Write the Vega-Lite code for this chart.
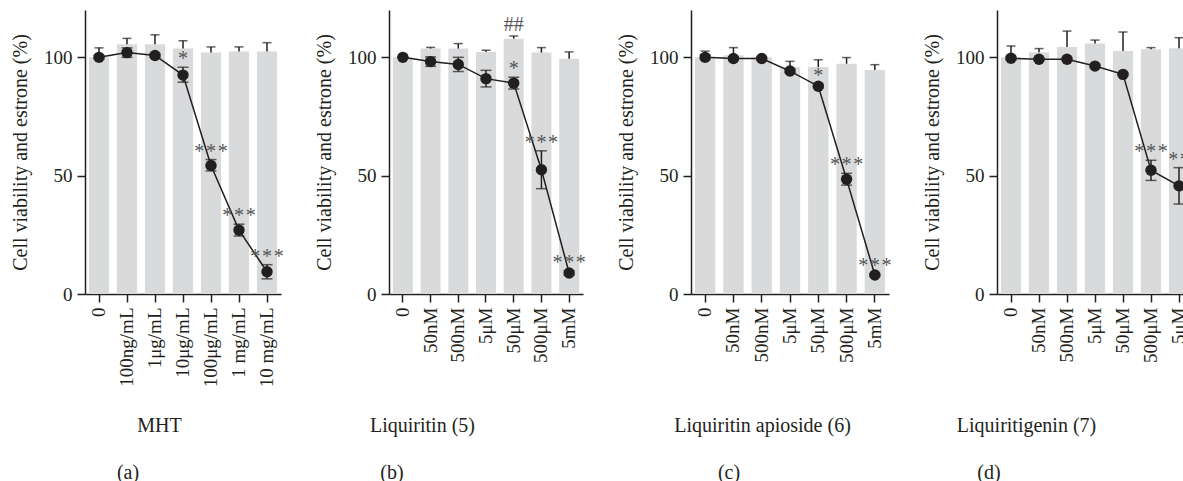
{
  "$schema": "https://vega.github.io/schema/vega-lite/v6.json",
  "padding": {"left": 10, "top": 10, "right": 0, "bottom": 0},
  "spacing": 108,
  "bounds": "flush",
  "config": {
    "font": "Liberation Serif",
    "view": {"stroke": null},
    "axis": {
      "domainColor": "#231f20", "tickColor": "#231f20", "labelColor": "#231f20", "titleColor": "#231f20",
      "labelFontSize": 19, "titleFontSize": 20, "titleFontWeight": "normal", "grid": false,
      "tickSize": 8, "domainWidth": 1.5, "tickWidth": 1.5, "labelFont": "Liberation Serif", "titleFont": "Liberation Serif"
    },
    "axisY": {"labelPadding": 5, "titlePadding": 13},
    "axisX": {"labelAngle": -90, "labelPadding": 5, "titleY": 121},
    "title": {"fontSize": 20, "fontWeight": "normal", "color": "#231f20", "font": "Liberation Serif"}
  },
  "datasets": {
    "a": [
      {"dose": "0", "bar": 100, "barHi": 104, "pt": 100, "ptLo": 99.2, "ptHi": 100.8, "sig": "", "hash": ""},
      {"dose": "100ng/mL", "bar": 105.5, "barHi": 108, "pt": 102, "ptLo": 100, "ptHi": 104, "sig": "", "hash": ""},
      {"dose": "1μg/mL", "bar": 105.5, "barHi": 109.5, "pt": 100.8, "ptLo": 100, "ptHi": 101.6, "sig": "", "hash": ""},
      {"dose": "10μg/mL", "bar": 103.7, "barHi": 107, "pt": 92.5, "ptLo": 89.5, "ptHi": 95.8, "sig": "*", "hash": ""},
      {"dose": "100μg/mL", "bar": 102, "barHi": 104.4, "pt": 54.3, "ptLo": 52, "ptHi": 56.8, "sig": "*\u200a*\u200a*", "hash": ""},
      {"dose": "1 mg/mL", "bar": 102.5, "barHi": 104.4, "pt": 27, "ptLo": 24.5, "ptHi": 29.5, "sig": "*\u200a*\u200a*", "hash": ""},
      {"dose": "10 mg/mL", "bar": 102.5, "barHi": 106.2, "pt": 9.4, "ptLo": 6.4, "ptHi": 12.4, "sig": "*\u200a*\u200a*", "hash": ""}
    ],
    "b": [
      {"dose": "0", "bar": 100, "barHi": 100, "pt": 100, "ptLo": 100, "ptHi": 100, "sig": "", "hash": ""},
      {"dose": "50nM", "bar": 103.7, "barHi": 104.2, "pt": 98.2, "ptLo": 96.2, "ptHi": 100.2, "sig": "", "hash": ""},
      {"dose": "500nM", "bar": 103.7, "barHi": 105.8, "pt": 97, "ptLo": 94, "ptHi": 100, "sig": "", "hash": ""},
      {"dose": "5μM", "bar": 102.3, "barHi": 103, "pt": 91, "ptLo": 87.5, "ptHi": 94.5, "sig": "", "hash": ""},
      {"dose": "50μM", "bar": 107.9, "barHi": 109, "pt": 89.1, "ptLo": 86.6, "ptHi": 91.6, "sig": "*", "hash": "##"},
      {"dose": "500μM", "bar": 102, "barHi": 104.1, "pt": 52.5, "ptLo": 44.5, "ptHi": 60.5, "sig": "*\u200a*\u200a*", "hash": ""},
      {"dose": "5mM", "bar": 99.4, "barHi": 102.3, "pt": 8.9, "ptLo": 8, "ptHi": 9.8, "sig": "*\u200a*\u200a*", "hash": ""}
    ],
    "c": [
      {"dose": "0", "bar": 100, "barHi": 102.6, "pt": 100, "ptLo": 99, "ptHi": 101, "sig": "", "hash": ""},
      {"dose": "50nM", "bar": 100.9, "barHi": 104.1, "pt": 99.5, "ptLo": 98.8, "ptHi": 100.2, "sig": "", "hash": ""},
      {"dose": "500nM", "bar": 100, "barHi": 100.4, "pt": 99.5, "ptLo": 99, "ptHi": 100, "sig": "", "hash": ""},
      {"dose": "5μM", "bar": 95.9, "barHi": 98.3, "pt": 94.2, "ptLo": 93.5, "ptHi": 95, "sig": "", "hash": ""},
      {"dose": "50μM", "bar": 95.9, "barHi": 99, "pt": 87.8, "ptLo": 87, "ptHi": 88.6, "sig": "*", "hash": ""},
      {"dose": "500μM", "bar": 97.3, "barHi": 99.9, "pt": 48.5, "ptLo": 46, "ptHi": 51, "sig": "*\u200a*\u200a*", "hash": ""},
      {"dose": "5mM", "bar": 94.7, "barHi": 96.9, "pt": 8, "ptLo": 7.5, "ptHi": 8.5, "sig": "*\u200a*\u200a*", "hash": ""}
    ],
    "d": [
      {"dose": "0", "bar": 100, "barHi": 104.8, "pt": 99.6, "ptLo": 98.8, "ptHi": 100.4, "sig": "", "hash": ""},
      {"dose": "50nM", "bar": 102.2, "barHi": 103.7, "pt": 99.2, "ptLo": 98.6, "ptHi": 99.8, "sig": "", "hash": ""},
      {"dose": "500nM", "bar": 104.4, "barHi": 111.1, "pt": 99.2, "ptLo": 98.6, "ptHi": 99.8, "sig": "", "hash": ""},
      {"dose": "5μM", "bar": 105.8, "barHi": 107.3, "pt": 96.3, "ptLo": 95.7, "ptHi": 96.9, "sig": "", "hash": ""},
      {"dose": "50μM", "bar": 102.7, "barHi": 110.7, "pt": 92.8, "ptLo": 92.2, "ptHi": 93.4, "sig": "", "hash": ""},
      {"dose": "500μM", "bar": 103.4, "barHi": 104.1, "pt": 52.3, "ptLo": 48, "ptHi": 56.5, "sig": "*\u200a*\u200a*", "hash": ""},
      {"dose": "5μM ", "bar": 103.8, "barHi": 108.3, "pt": 45.7, "ptLo": 38, "ptHi": 53.4, "sig": "*\u200a*", "hash": ""}
    ]
  },
  "hconcat": [
    {
      "width": 196, "height": 284,
      "data": {"name": "a"},
      "title": {"text": "(a)", "orient": "bottom", "anchor": "middle", "frame": "group", "dx": -55, "offset": 28},
      "encoding": {"x": {"field": "dose", "type": "nominal", "sort": null, "scale": {"paddingInner": 0.28, "paddingOuter": 0.14},
        "axis": {"title": "MHT", "titleX": 74}}},
      "layer": [
        {"mark": {"type": "bar", "color": "#d9dadb"}, "encoding": {"y": {"field": "bar", "type": "quantitative", "scale": {"domain": [0, 120]}, "title": "Cell viability and estrone (%)", "axis": {"values": [0, 50, 100]}}}},
        {"mark": {"type": "rule", "color": "#231f20", "strokeWidth": 1.5}, "encoding": {"y": {"field": "bar", "type": "quantitative", "title": "Cell viability and estrone (%)"}, "y2": {"field": "barHi"}}},
        {"mark": {"type": "tick", "color": "#231f20", "size": 9, "thickness": 1.5}, "encoding": {"y": {"field": "barHi", "type": "quantitative", "title": "Cell viability and estrone (%)"}}},
        {"mark": {"type": "rule", "color": "#231f20", "strokeWidth": 1.5}, "encoding": {"y": {"field": "ptLo", "type": "quantitative", "title": "Cell viability and estrone (%)"}, "y2": {"field": "ptHi"}}},
        {"mark": {"type": "tick", "color": "#231f20", "size": 11, "thickness": 1.5}, "encoding": {"y": {"field": "ptLo", "type": "quantitative", "title": "Cell viability and estrone (%)"}}},
        {"mark": {"type": "tick", "color": "#231f20", "size": 11, "thickness": 1.5}, "encoding": {"y": {"field": "ptHi", "type": "quantitative", "title": "Cell viability and estrone (%)"}}},
        {"mark": {"type": "line", "color": "#231f20", "strokeWidth": 1.5}, "encoding": {"y": {"field": "pt", "type": "quantitative", "title": "Cell viability and estrone (%)"}}},
        {"mark": {"type": "point", "shape": "circle", "filled": true, "opacity": 1, "color": "#231f20", "size": 130}, "encoding": {"y": {"field": "pt", "type": "quantitative", "title": "Cell viability and estrone (%)"}}},
        {"mark": {"type": "text", "color": "#555555", "fontSize": 20, "baseline": "alphabetic", "dy": -2}, "encoding": {"y": {"field": "ptHi", "type": "quantitative", "title": "Cell viability and estrone (%)"}, "text": {"field": "sig"}}}
      ]
    },
    {
      "width": 194, "height": 284,
      "data": {"name": "b"},
      "title": {"text": "(b)", "orient": "bottom", "anchor": "middle", "frame": "group", "dx": -94, "offset": 28},
      "encoding": {"x": {"field": "dose", "type": "nominal", "sort": null, "scale": {"paddingInner": 0.28, "paddingOuter": 0.14},
        "axis": {"title": "Liquiritin (5)", "titleX": 33}}},
      "layer": [
        {"mark": {"type": "bar", "color": "#d9dadb"}, "encoding": {"y": {"field": "bar", "type": "quantitative", "scale": {"domain": [0, 120]}, "title": "Cell viability and estrone (%)", "axis": {"values": [0, 50, 100]}}}},
        {"mark": {"type": "rule", "color": "#231f20", "strokeWidth": 1.5}, "encoding": {"y": {"field": "bar", "type": "quantitative", "title": "Cell viability and estrone (%)"}, "y2": {"field": "barHi"}}},
        {"mark": {"type": "tick", "color": "#231f20", "size": 9, "thickness": 1.5}, "encoding": {"y": {"field": "barHi", "type": "quantitative", "title": "Cell viability and estrone (%)"}}},
        {"mark": {"type": "rule", "color": "#231f20", "strokeWidth": 1.5}, "encoding": {"y": {"field": "ptLo", "type": "quantitative", "title": "Cell viability and estrone (%)"}, "y2": {"field": "ptHi"}}},
        {"mark": {"type": "tick", "color": "#231f20", "size": 11, "thickness": 1.5}, "encoding": {"y": {"field": "ptLo", "type": "quantitative", "title": "Cell viability and estrone (%)"}}},
        {"mark": {"type": "tick", "color": "#231f20", "size": 11, "thickness": 1.5}, "encoding": {"y": {"field": "ptHi", "type": "quantitative", "title": "Cell viability and estrone (%)"}}},
        {"mark": {"type": "line", "color": "#231f20", "strokeWidth": 1.5}, "encoding": {"y": {"field": "pt", "type": "quantitative", "title": "Cell viability and estrone (%)"}}},
        {"mark": {"type": "point", "shape": "circle", "filled": true, "opacity": 1, "color": "#231f20", "size": 130}, "encoding": {"y": {"field": "pt", "type": "quantitative", "title": "Cell viability and estrone (%)"}}},
        {"mark": {"type": "text", "color": "#555555", "fontSize": 20, "baseline": "alphabetic", "dy": -2}, "encoding": {"y": {"field": "ptHi", "type": "quantitative", "title": "Cell viability and estrone (%)"}, "text": {"field": "sig"}}},
        {"mark": {"type": "text", "color": "#555555", "fontSize": 20, "baseline": "alphabetic", "dy": -5}, "encoding": {"y": {"field": "barHi", "type": "quantitative", "title": "Cell viability and estrone (%)"}, "text": {"field": "hash"}}}
      ]
    },
    {
      "width": 198, "height": 284,
      "data": {"name": "c"},
      "title": {"text": "(c)", "orient": "bottom", "anchor": "middle", "frame": "group", "dx": -61, "offset": 28},
      "encoding": {"x": {"field": "dose", "type": "nominal", "sort": null, "scale": {"paddingInner": 0.28, "paddingOuter": 0.14},
        "axis": {"title": "Liquiritin apioside (6)", "titleX": 71}}},
      "layer": [
        {"mark": {"type": "bar", "color": "#d9dadb"}, "encoding": {"y": {"field": "bar", "type": "quantitative", "scale": {"domain": [0, 120]}, "title": "Cell viability and estrone (%)", "axis": {"values": [0, 50, 100]}}}},
        {"mark": {"type": "rule", "color": "#231f20", "strokeWidth": 1.5}, "encoding": {"y": {"field": "bar", "type": "quantitative", "title": "Cell viability and estrone (%)"}, "y2": {"field": "barHi"}}},
        {"mark": {"type": "tick", "color": "#231f20", "size": 9, "thickness": 1.5}, "encoding": {"y": {"field": "barHi", "type": "quantitative", "title": "Cell viability and estrone (%)"}}},
        {"mark": {"type": "rule", "color": "#231f20", "strokeWidth": 1.5}, "encoding": {"y": {"field": "ptLo", "type": "quantitative", "title": "Cell viability and estrone (%)"}, "y2": {"field": "ptHi"}}},
        {"mark": {"type": "tick", "color": "#231f20", "size": 11, "thickness": 1.5}, "encoding": {"y": {"field": "ptLo", "type": "quantitative", "title": "Cell viability and estrone (%)"}}},
        {"mark": {"type": "tick", "color": "#231f20", "size": 11, "thickness": 1.5}, "encoding": {"y": {"field": "ptHi", "type": "quantitative", "title": "Cell viability and estrone (%)"}}},
        {"mark": {"type": "line", "color": "#231f20", "strokeWidth": 1.5}, "encoding": {"y": {"field": "pt", "type": "quantitative", "title": "Cell viability and estrone (%)"}}},
        {"mark": {"type": "point", "shape": "circle", "filled": true, "opacity": 1, "color": "#231f20", "size": 130}, "encoding": {"y": {"field": "pt", "type": "quantitative", "title": "Cell viability and estrone (%)"}}},
        {"mark": {"type": "text", "color": "#555555", "fontSize": 20, "baseline": "alphabetic", "dy": -2}, "encoding": {"y": {"field": "ptHi", "type": "quantitative", "title": "Cell viability and estrone (%)"}, "text": {"field": "sig"}}}
      ]
    },
    {
      "width": 196, "height": 284,
      "data": {"name": "d"},
      "title": {"text": "(d)", "orient": "bottom", "anchor": "middle", "frame": "group", "dx": -106, "offset": 28},
      "encoding": {"x": {"field": "dose", "type": "nominal", "sort": null, "scale": {"paddingInner": 0.28, "paddingOuter": 0.14},
        "axis": {"title": "Liquiritigenin (7)", "titleX": 29}}},
      "layer": [
        {"mark": {"type": "bar", "color": "#d9dadb"}, "encoding": {"y": {"field": "bar", "type": "quantitative", "scale": {"domain": [0, 120]}, "title": "Cell viability and estrone (%)", "axis": {"values": [0, 50, 100]}}}},
        {"mark": {"type": "rule", "color": "#231f20", "strokeWidth": 1.5}, "encoding": {"y": {"field": "bar", "type": "quantitative", "title": "Cell viability and estrone (%)"}, "y2": {"field": "barHi"}}},
        {"mark": {"type": "tick", "color": "#231f20", "size": 9, "thickness": 1.5}, "encoding": {"y": {"field": "barHi", "type": "quantitative", "title": "Cell viability and estrone (%)"}}},
        {"mark": {"type": "rule", "color": "#231f20", "strokeWidth": 1.5}, "encoding": {"y": {"field": "ptLo", "type": "quantitative", "title": "Cell viability and estrone (%)"}, "y2": {"field": "ptHi"}}},
        {"mark": {"type": "tick", "color": "#231f20", "size": 11, "thickness": 1.5}, "encoding": {"y": {"field": "ptLo", "type": "quantitative", "title": "Cell viability and estrone (%)"}}},
        {"mark": {"type": "tick", "color": "#231f20", "size": 11, "thickness": 1.5}, "encoding": {"y": {"field": "ptHi", "type": "quantitative", "title": "Cell viability and estrone (%)"}}},
        {"mark": {"type": "line", "color": "#231f20", "strokeWidth": 1.5}, "encoding": {"y": {"field": "pt", "type": "quantitative", "title": "Cell viability and estrone (%)"}}},
        {"mark": {"type": "point", "shape": "circle", "filled": true, "opacity": 1, "color": "#231f20", "size": 130}, "encoding": {"y": {"field": "pt", "type": "quantitative", "title": "Cell viability and estrone (%)"}}},
        {"mark": {"type": "text", "color": "#555555", "fontSize": 20, "baseline": "alphabetic", "dy": -2}, "encoding": {"y": {"field": "ptHi", "type": "quantitative", "title": "Cell viability and estrone (%)"}, "text": {"field": "sig"}}}
      ]
    }
  ]
}
